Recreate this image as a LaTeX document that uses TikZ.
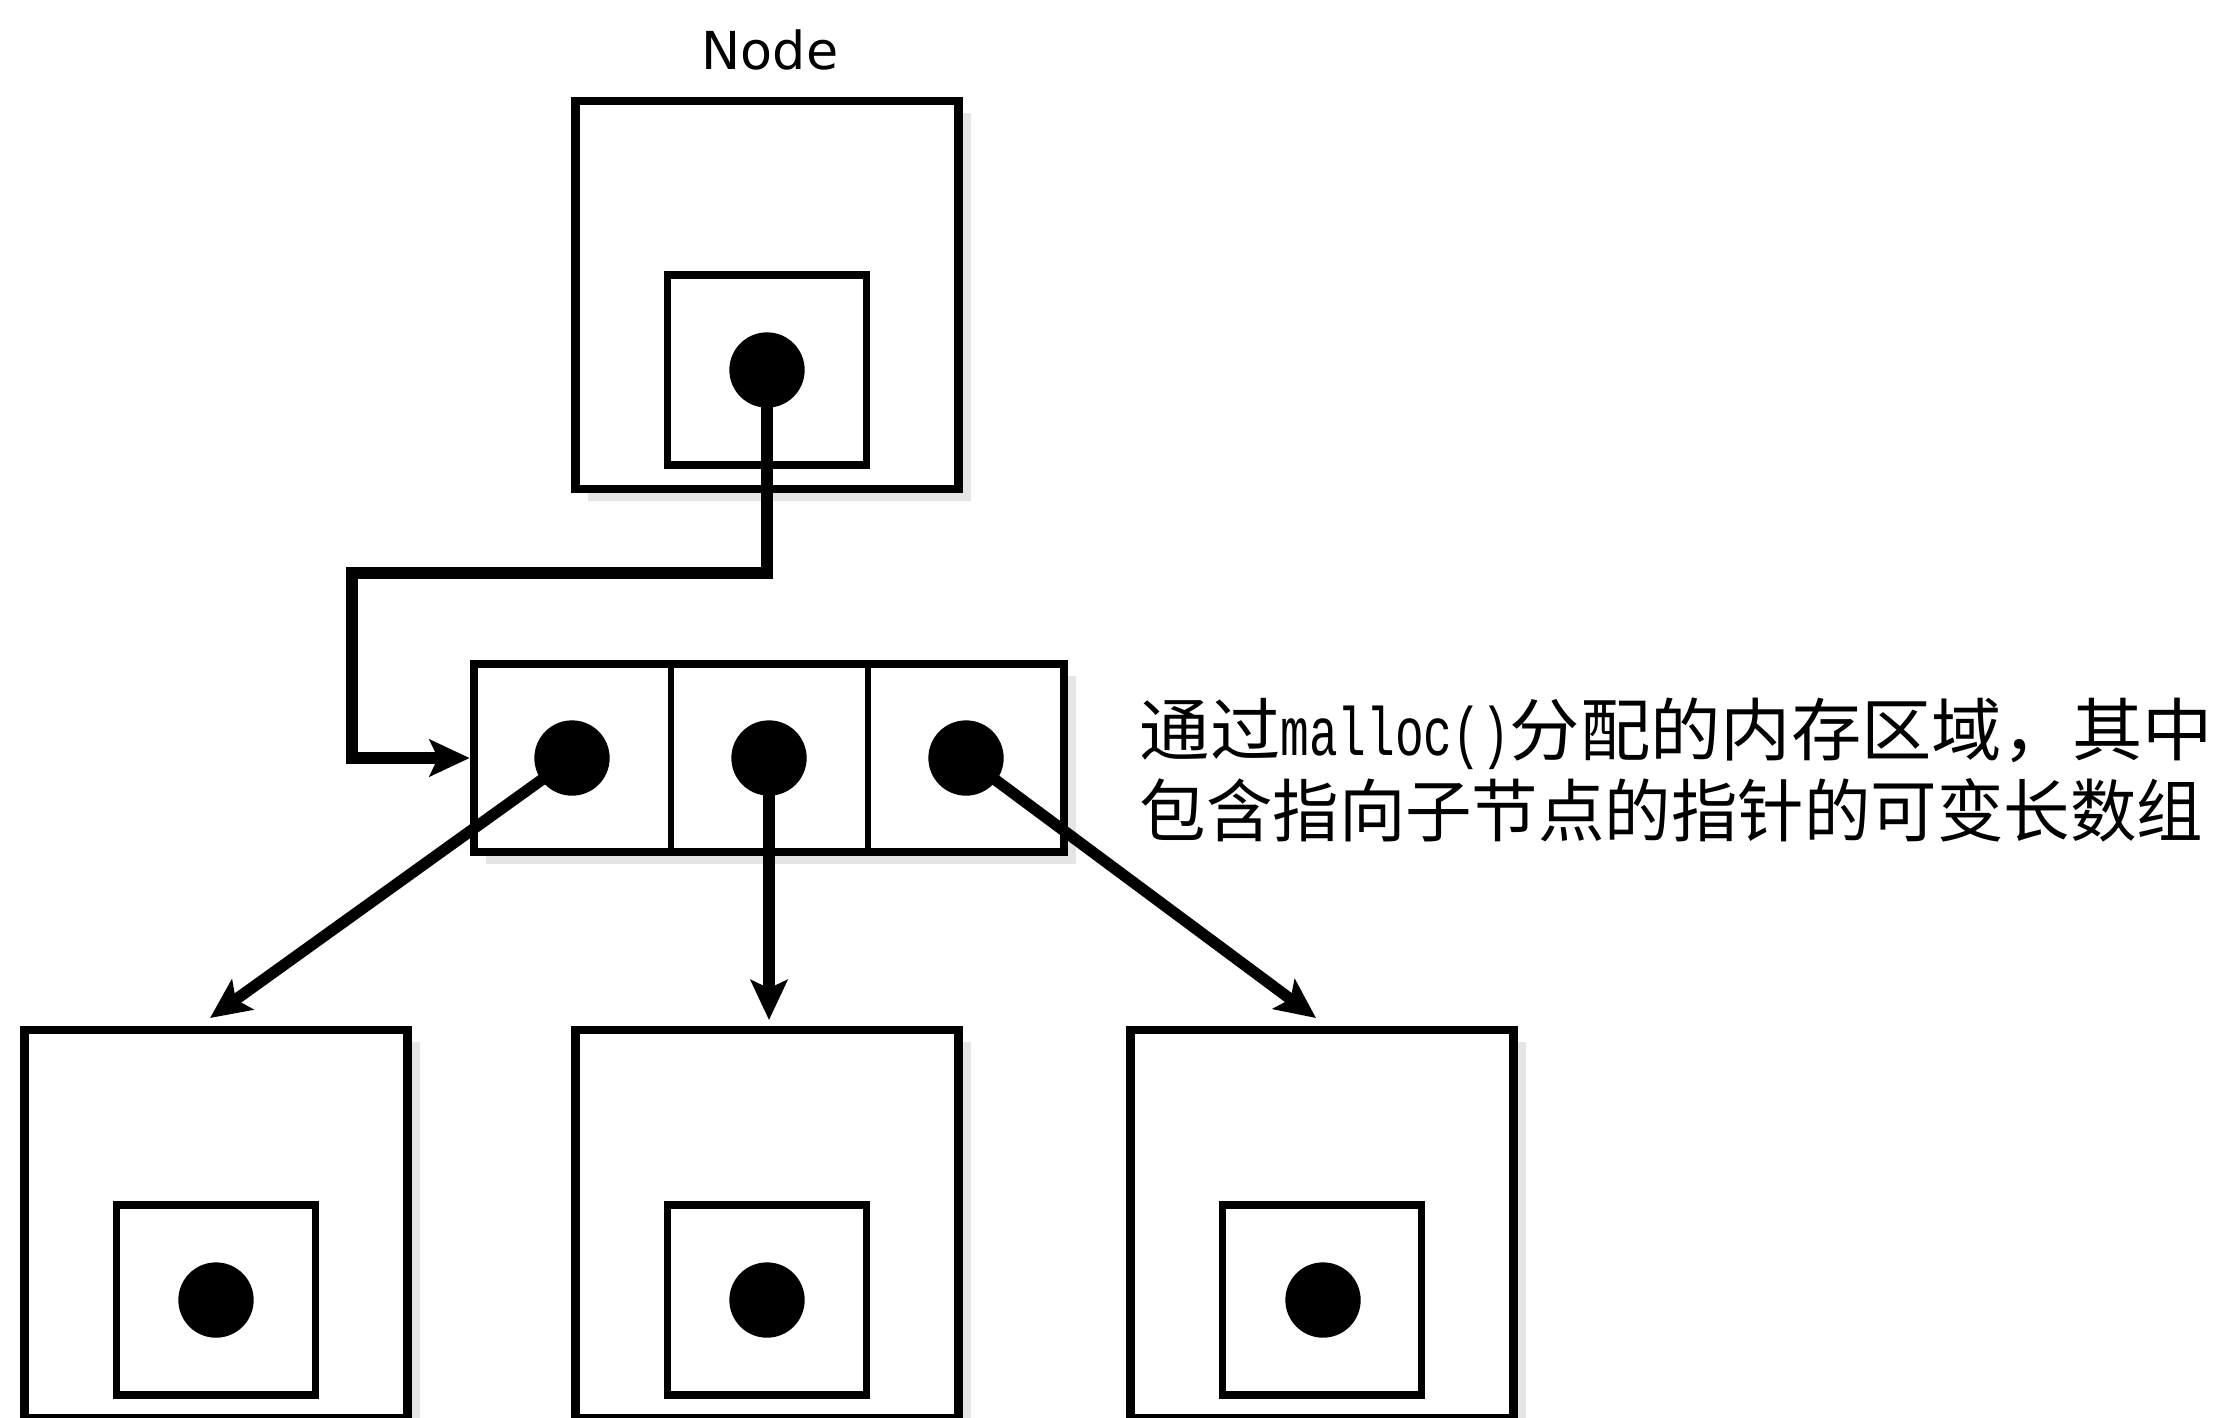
\documentclass[tikz,border=0pt]{standalone}
\usepackage{fontspec}
\newfontfamily\cjkfont{Noto Sans CJK SC}
\newfontfamily\djvfont{DejaVu Sans}
\newfontfamily\monofont{Liberation Mono}
\usetikzlibrary{shadows,arrows.meta}
\tikzset{
  boxshadow/.style={drop shadow={shadow xshift=3.6pt, shadow yshift=-3.6pt, fill=black!20}},
  outerbox/.style={draw, line width=2.6pt, fill=white, minimum width=114.9pt, minimum height=116.4pt, inner sep=0pt, boxshadow},
  innerbox/.style={draw, line width=2.2pt, fill=white, minimum width=59.7pt, minimum height=57pt, inner sep=0pt},
  dotnode/.style={circle, fill=black, minimum size=22.6pt, inner sep=0pt},
  arraybox/.style={draw, line width=2.6pt, fill=white, minimum width=177pt, minimum height=56.4pt, inner sep=0pt, boxshadow},
  cellnode/.style={minimum width=59pt, minimum height=56.4pt, inner sep=0pt},
  divider/.style={line width=1.6pt},
  conn/.style={line width=3.4pt, -{Stealth[length=12pt,width=11pt,inset=2.5pt]}},
}
\begin{document}
\begin{tikzpicture}[x=0.3pt,y=-0.3pt]
\fill[white] (0,0) rectangle (2224,1417);
\useasboundingbox (0,0) rectangle (2224,1417);

% title
\node[font=\djvfont\fontsize{15.7pt}{18pt}\selectfont, inner sep=0pt] (title) at (770,50) {Node};

% top node
\node[outerbox] (top) at (767,295) {};
\node[innerbox] (topin) at (767,370) {};
\node[dotnode] (dtop) at (767,370) {};

% array
\node[arraybox] (arr) at (769,758) {};
\node[cellnode] (c1) at (572,758) {};
\node[cellnode] (c2) at (769,758) {};
\node[cellnode] (c3) at (966,758) {};
\draw[divider] (c1.north east) -- (c1.south east);
\draw[divider] (c2.north east) -- (c2.south east);
\node[dotnode] (d1) at (c1) {};
\node[dotnode] (d2) at (c2) {};
\node[dotnode] (d3) at (c3) {};

% label
\node[anchor=west, align=left, inner sep=0pt, font=\cjkfont\fontsize{20.5pt}{24.4pt}\selectfont] (label) at (1139,770)
  {\resizebox{322pt}{\height}{通过\scalebox{0.68}[1]{\monofont malloc()}分配的内存区域，其中}\\
   \resizebox{319pt}{\height}{包含指向子节点的指针的可变长数组}};

% bottom nodes
\node[outerbox] (bl) at (216,1224) {};
\node[innerbox] (blin) at (216,1300) {};
\node[dotnode] (dbl) at (216,1300) {};

\node[outerbox] (bm) at (767,1224) {};
\node[innerbox] (bmin) at (767,1300) {};
\node[dotnode] (dbm) at (767,1300) {};

\node[outerbox] (br) at (1322,1224) {};
\node[innerbox] (brin) at (1322,1300) {};
\node[dotnode] (dbr) at (1323,1300) {};

% connectors
\coordinate (k1) at (352,573);
\draw[conn] (dtop.center) |- (k1) |- (arr.west);

\coordinate (t1) at (210,1018);
\coordinate (t2) at (769,1020);
\coordinate (t3) at (1316,1018);
\draw[conn] (d1.center) -- (t1);
\draw[conn] (d2.center) -- (t2);
\draw[conn] (d3.center) -- (t3);
\end{tikzpicture}
\end{document}
